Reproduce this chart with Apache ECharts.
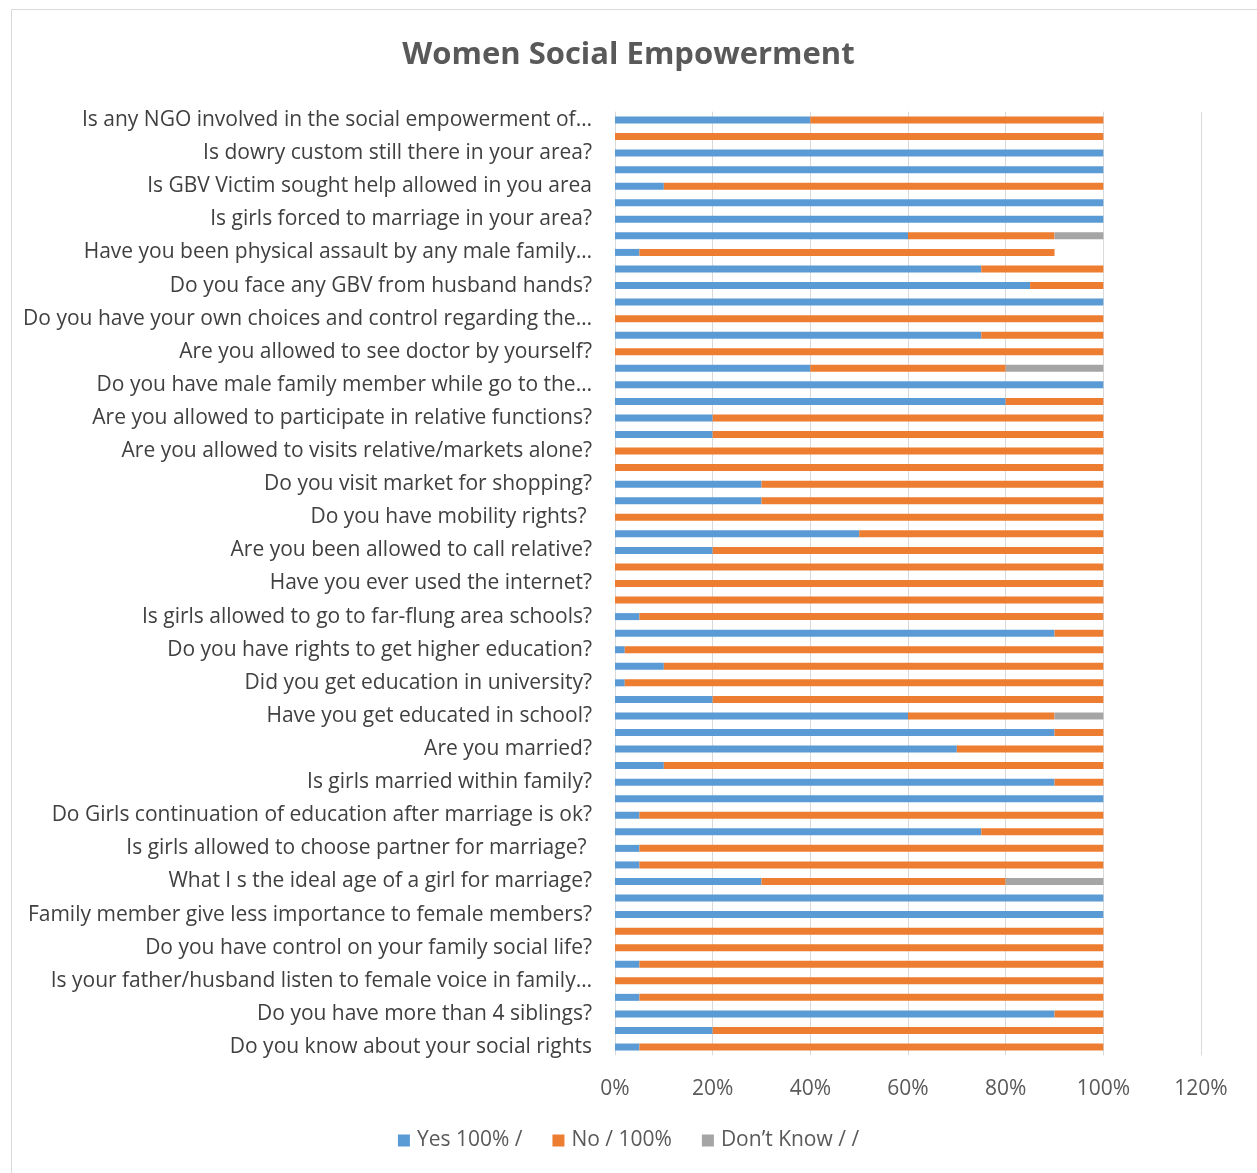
<!DOCTYPE html>
<html>
<head>
<meta charset="utf-8">
<script src="https://cdn.jsdelivr.net/npm/echarts@6/dist/echarts.min.js"></script>
<style>
html,body{margin:0;padding:0;background:#fff;}
#c{width:1257px;height:1173px;}
</style>
</head>
<body>
<div id="c"></div>
<script>
// 57 bars; the reference only prints every second category label
const categories = [
  "Is any NGO involved in the social empowerment of…", "",
  "Is dowry custom still there in your area?", "",
  "Is GBV Victim sought help allowed in you area", "",
  "Is girls forced to marriage in your area?", "",
  "Have you been physical assault by any male family…", "",
  "Do you face any GBV from husband hands?", "",
  "Do you have your own choices and control regarding the…", "",
  "Are you allowed to see doctor by yourself?", "",
  "Do you have male family member while go to the…", "",
  "Are you allowed to participate in relative functions?", "",
  "Are you allowed to visits relative/markets alone?", "",
  "Do you visit market for shopping?", "",
  "Do you have mobility rights? ", "",
  "Are you been allowed to call relative?", "",
  "Have you ever used the internet?", "",
  "Is girls allowed to go to far-flung area schools?", "",
  "Do you have rights to get higher education?", "",
  "Did you get education in university?", "",
  "Have you get educated in school?", "",
  "Are you married?", "",
  "Is girls married within family?", "",
  "Do Girls continuation of education after marriage is ok?", "",
  "Is girls allowed to choose partner for marriage? ", "",
  "What I s the ideal age of a girl for marriage?", "",
  "Family member give less importance to female members?", "",
  "Do you have control on your family social life?", "",
  "Is your father/husband listen to female voice in family…", "",
  "Do you have more than 4 siblings?", "",
  "Do you know about your social rights"
];
const yesValues = [
  40, 0, 100, 100, 10, 100, 100, 60, 5, 75,
  85, 100, 0, 75, 0, 40, 100, 80, 20, 20,
  0, 0, 30, 30, 0, 50, 20, 0, 0, 0,
  5, 90, 2, 10, 2, 20, 60, 90, 70, 10,
  90, 100, 5, 75, 5, 5, 30, 100, 100, 0,
  0, 5, 0, 5, 90, 20, 5
];
const noValues = [
  60, 100, 0, 0, 90, 0, 0, 30, 85, 25,
  15, 0, 100, 25, 100, 40, 0, 20, 80, 80,
  100, 100, 70, 70, 100, 50, 80, 100, 100, 100,
  95, 10, 98, 90, 98, 80, 30, 10, 30, 90,
  10, 0, 95, 25, 95, 95, 50, 0, 0, 100,
  100, 95, 100, 95, 10, 80, 95
];
const dontKnowValues = [
  0, 0, 0, 0, 0, 0, 0, 10, 0, 0,
  0, 0, 0, 0, 0, 20, 0, 0, 0, 0,
  0, 0, 0, 0, 0, 0, 0, 0, 0, 0,
  0, 0, 0, 0, 0, 0, 10, 0, 0, 0,
  0, 0, 0, 0, 0, 0, 20, 0, 0, 0,
  0, 0, 0, 0, 0, 0, 0
];
const seriesNames = ["Yes 100% /", "No / 100%", "Don’t Know / /"];
const colors = ["#5B9BD5", "#ED7D31", "#A5A5A5"];
const titleText = "Women Social Empowerment";

const FONT = "Open Sans";
const chart = echarts.init(document.getElementById('c'));
const mk = (name, data, color) => ({
  name, type: 'bar', stack: 'total', data, barWidth: 7,
  itemStyle: { color }, emphasis: { disabled: true }
});
chart.setOption({
  animation: false,
  backgroundColor: '#fff',
  title: {
    text: titleText, left: 'center', top: 35,
    textStyle: { fontFamily: FONT, fontSize: 31, fontWeight: 'bold', color: '#595959' }
  },
  graphic: [{
    type: 'rect', shape: { x: 11.5, y: 9.5, width: 1260, height: 1180 },
    style: { fill: 'none', stroke: '#d9d9d9', lineWidth: 1 }, silent: true, z: -1
  }],
  legend: {
    bottom: 17, left: 'center', itemWidth: 12, itemHeight: 12, itemGap: 30,
    icon: 'rect',
    textStyle: { fontFamily: FONT, fontSize: 21, color: '#595959', padding: [0, 0, 0, 2] },
    data: seriesNames
  },
  grid: { left: 615, right: 56, top: 111.7, bottom: 117.7, containLabel: false },
  xAxis: {
    type: 'value', min: 0, max: 120, interval: 20,
    axisLine: { show: false }, axisTick: { show: false },
    splitLine: { show: true, lineStyle: { color: '#d9d9d9', width: 1 } },
    axisLabel: { formatter: '{value}%', fontFamily: FONT, fontSize: 21, color: '#595959', margin: 23 }
  },
  yAxis: {
    type: 'category', inverse: true, data: categories,
    axisLine: { show: false }, axisTick: { show: false },
    axisLabel: { interval: 0, fontFamily: FONT, fontSize: 21, color: '#404040', margin: 23 }
  },
  series: [
    mk(seriesNames[0], yesValues, colors[0]),
    mk(seriesNames[1], noValues, colors[1]),
    mk(seriesNames[2], dontKnowValues, colors[2])
  ]
});
</script>
</body>
</html>
